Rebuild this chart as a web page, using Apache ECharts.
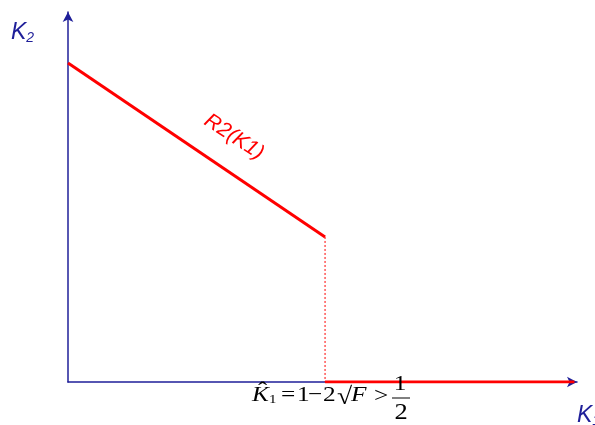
<!DOCTYPE html>
<html>
<head>
<meta charset="utf-8">
<script src="https://cdn.jsdelivr.net/npm/echarts@6/dist/echarts.min.js"></script>
<style>
  html, body { margin: 0; padding: 0; background: #ffffff; }
  #chart { width: 595px; height: 425px; }
</style>
</head>
<body>
<div id="chart"></div>
<script>
// Reaction function R2(K1): falls linearly, then drops to zero at K1-hat
const reactionLine = [[0, 0.862], [0.505, 0.392]];
const dropLine = [[0.505, 0.392], [0.505, 0]];
const zeroLine = [[0.505, 0], [0.995, 0]];

const BLUE = '#1f1f99';
const RED = '#ff0000';
const SERIF = '"Liberation Serif", "DejaVu Serif", serif';
const SANS = '"Liberation Sans", Arial, sans-serif';

const chart = echarts.init(document.getElementById('chart'), null, { renderer: 'canvas' });

const axisCommon = {
  type: 'value',
  min: 0,
  max: 1,
  axisLine: { show: true, symbol: ['none', 'arrow'], symbolSize: [8, 10], lineStyle: { color: BLUE, width: 1.5 } },
  axisTick: { show: false },
  axisLabel: { show: false },
  splitLine: { show: false }
};

// one glyph or run of the threshold formula, slightly widened like equation-editor type
function mathText(text, x, y, size, opts) {
  return {
    type: 'text', x: x, y: y, z: 10, scaleX: 1.15,
    style: Object.assign({
      text: text, fontFamily: SERIF, fontSize: size, fill: '#000', verticalAlign: 'middle'
    }, opts || {})
  };
}

const axisTitleRich = {
  k: { fontFamily: SANS, fontStyle: 'italic', fontSize: 23, fill: BLUE },
  s: { fontFamily: SANS, fontStyle: 'italic', fontSize: 14, fill: BLUE, padding: [10, 0, 0, 0] }
};

chart.setOption({
  animation: false,
  grid: { left: 68, top: 12, width: 509, height: 370 },
  xAxis: Object.assign({}, axisCommon),
  yAxis: Object.assign({}, axisCommon),
  series: [
    { type: 'line', data: reactionLine, symbol: 'none', lineStyle: { color: RED, width: 3 }, z: 5 },
    { type: 'line', data: dropLine, symbol: 'none', lineStyle: { color: RED, width: 1, type: [2, 2] }, z: 5 },
    { type: 'line', data: zeroLine, symbol: 'none', lineStyle: { color: RED, width: 3 }, z: 5 }
  ],
  graphic: [
    // axis titles
    { type: 'text', x: 11, y: 21, style: { text: '{k|K}{s|2}', rich: axisTitleRich } },
    { type: 'text', x: 577, y: 404, style: { text: '{k|K}{s|1}', rich: axisTitleRich } },
    // curve label
    { type: 'text', x: 234, y: 137, rotation: -33 * Math.PI / 180, style: {
        text: 'R2(K1)', fontFamily: SANS, fontStyle: 'italic', fontSize: 21, fill: RED,
        align: 'center', verticalAlign: 'middle' } },
    // threshold formula: K1-hat = 1 - 2 sqrt(F) > 1/2
    mathText('K', 252, 395, 22, { fontStyle: 'italic' }),
    mathText('\u02C6', 258, 392, 24),
    mathText('1', 269, 400, 13),
    mathText('=', 281, 395, 22),
    mathText('1', 297, 395, 22),
    mathText('\u2212', 308, 395, 22),
    mathText('2', 323, 395, 22),
    mathText('\u221A', 337, 398, 24),
    mathText('F', 351, 395, 22, { fontStyle: 'italic' }),
    { type: 'line', shape: { x1: 347, y1: 381.5, x2: 369, y2: 381.5 }, style: { stroke: '#000', lineWidth: 1 }, z: 1 },
    mathText('>', 374, 396, 22),
    mathText('1', 400, 384, 22, { align: 'center' }),
    { type: 'line', shape: { x1: 392, y1: 398, x2: 410, y2: 398 }, style: { stroke: '#000', lineWidth: 1 } },
    mathText('2', 401, 413, 23, { align: 'center' })
  ]
});
</script>
</body>
</html>
